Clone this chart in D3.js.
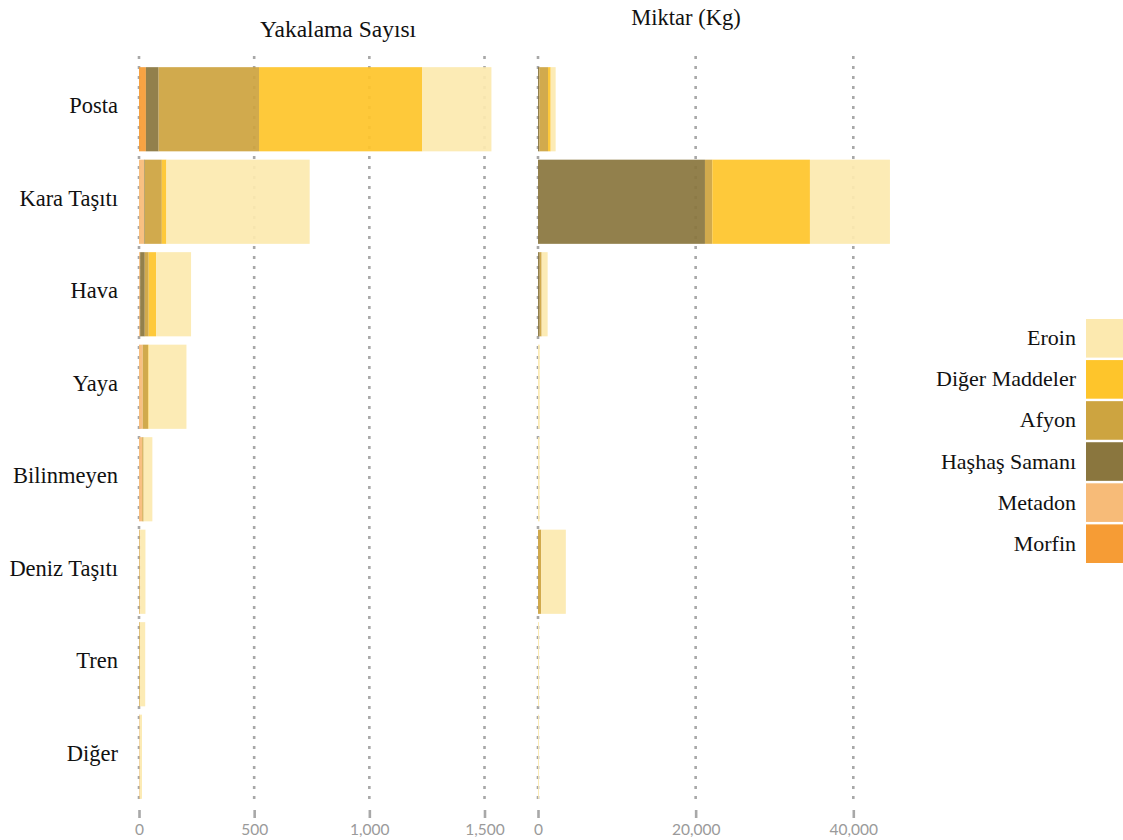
<!DOCTYPE html>
<html><head><meta charset="utf-8">
<script src="https://cdn.jsdelivr.net/npm/d3@7"></script>
<style>body{margin:0;background:#fff}svg{display:block}</style>
</head><body>
<svg id="c" width="1123" height="840"></svg>
<script>
const categories = ["Posta","Kara Taşıtı","Hava","Yaya","Bilinmeyen","Deniz Taşıtı","Tren","Diğer"];
const substances = ["Morfin","Metadon","Haşhaş Samanı","Afyon","Diğer Maddeler","Eroin"];
const legendOrder = ["Eroin","Diğer Maddeler","Afyon","Haşhaş Samanı","Metadon","Morfin"];
const colors = ["#F69C35","#F7BB78","#8A763E","#CDA440","#FEC52B","#FCE9AF"];

// Yakalama Sayısı (counts)
const countMorfin  = [30, 0, 2, 0, 0, 0, 0, 0];
const countMetadon = [0, 22, 3, 16, 14, 2, 1, 2];
const countHashas  = [55, 3, 20, 0, 0, 0, 0, 0];
const countAfyon   = [436, 74, 17, 23, 6, 3, 3, 1];
const countDiger   = [709, 20, 32, 3, 0, 0, 0, 0];
const countEroin   = [300, 622, 152, 164, 38, 23, 23, 10];

// Miktar (Kg)
const kgMorfin  = [0, 0, 0, 0, 0, 0, 0, 0];
const kgMetadon = [0, 0, 0, 0, 0, 0, 0, 0];
const kgHashas  = [180, 21180, 215, 0, 0, 0, 0, 0];
const kgAfyon   = [1090, 930, 250, 0, 0, 400, 0, 0];
const kgDiger   = [340, 12390, 0, 0, 0, 0, 0, 0];
const kgEroin   = [630, 10150, 760, 220, 200, 3130, 130, 120];

const leftTicks = [0, 500, 1000, 1500];
const rightTicks = [0, 20000, 40000];

function table(arrs){
  return categories.map((c,i)=>{
    const o = {cat:c};
    substances.forEach((s,j)=>o[s]=arrs[j][i]);
    return o;
  });
}
const countData = table([countMorfin,countMetadon,countHashas,countAfyon,countDiger,countEroin]);
const kgData = table([kgMorfin,kgMetadon,kgHashas,kgAfyon,kgDiger,kgEroin]);

const svg = d3.select("#c");
const serif = "'Liberation Serif', 'Times New Roman', serif";
const color = d3.scaleOrdinal().domain(substances).range(colors);
const y = d3.scaleBand().domain(categories).range([63, 803]).paddingInner(0.09).paddingOuter(0.045);

const xL = d3.scaleLinear().domain([0,1500]).range([139, 484.5]);
const xR = d3.scaleLinear().domain([0,40000]).range([538, 853.3]);

const stack = d3.stack().keys(substances);

function panel(x, data, ticks, fmt){
  const g = svg.append("g");
  g.selectAll("line.grid").data(ticks).join("line")
    .attr("x1",d=>x(d)).attr("x2",d=>x(d))
    .attr("y1",56).attr("y2",806)
    .attr("stroke","#a8a8a8").attr("stroke-width",2.6)
    .attr("stroke-dasharray","3,7");
  const series = stack(data);
  g.selectAll("g.s").data(series).join("g")
    .attr("fill",d=>color(d.key)).attr("fill-opacity",0.93)
    .selectAll("rect").data(d=>d).join("rect")
    .attr("x",d=>x(d[0]))
    .attr("width",d=>Math.max(0,x(d[1])-x(d[0])))
    .attr("y",d=>y(d.data.cat))
    .attr("height",y.bandwidth());
  const ax = d3.axisBottom(x).tickValues(ticks).tickFormat(fmt).tickSize(8).tickPadding(6);
  const a = g.append("g").attr("transform","translate(0,810)").call(ax);
  a.select(".domain").remove();
  a.selectAll(".tick line").attr("stroke","#a8a8a8").attr("stroke-width",2.6);
  a.selectAll(".tick text").attr("fill","#9a9a9a").attr("font-family","Lato, sans-serif").attr("font-size",15.5);
}
panel(xL, countData, leftTicks, d3.format(","));
panel(xR, kgData, rightTicks, d3.format(","));

// category labels
svg.append("g").selectAll("text").data(categories).join("text")
  .attr("x",118).attr("y",d=>y(d)+y.bandwidth()/2+4)
  .attr("text-anchor","end")
  .attr("font-family",serif)
  .attr("font-size",22.5).attr("fill","#111")
  .text(d=>d);

// titles
svg.append("text").attr("x",338).attr("y",37).attr("text-anchor","middle")
  .attr("font-family",serif).attr("font-size",23.5).attr("fill","#111")
  .text("Yakalama Sayısı");
svg.append("text").attr("x",686).attr("y",25).attr("text-anchor","middle")
  .attr("font-family",serif).attr("font-size",22.5).attr("fill","#111")
  .text("Miktar (Kg)");

// legend
const lg = svg.append("g");
const ly = d3.scaleBand().domain(legendOrder).range([319, 563]).paddingInner(0.06).paddingOuter(0);
lg.selectAll("rect").data(legendOrder).join("rect")
  .attr("x",1086).attr("width",37)
  .attr("y",d=>ly(d)).attr("height",ly.bandwidth())
  .attr("fill",d=>color(d));
lg.selectAll("text").data(legendOrder).join("text")
  .attr("x",1076).attr("y",d=>ly(d)+ly.bandwidth()/2+7)
  .attr("text-anchor","end")
  .attr("font-family",serif)
  .attr("font-size",22).attr("fill","#111")
  .text(d=>d);
</script>
</body></html>
